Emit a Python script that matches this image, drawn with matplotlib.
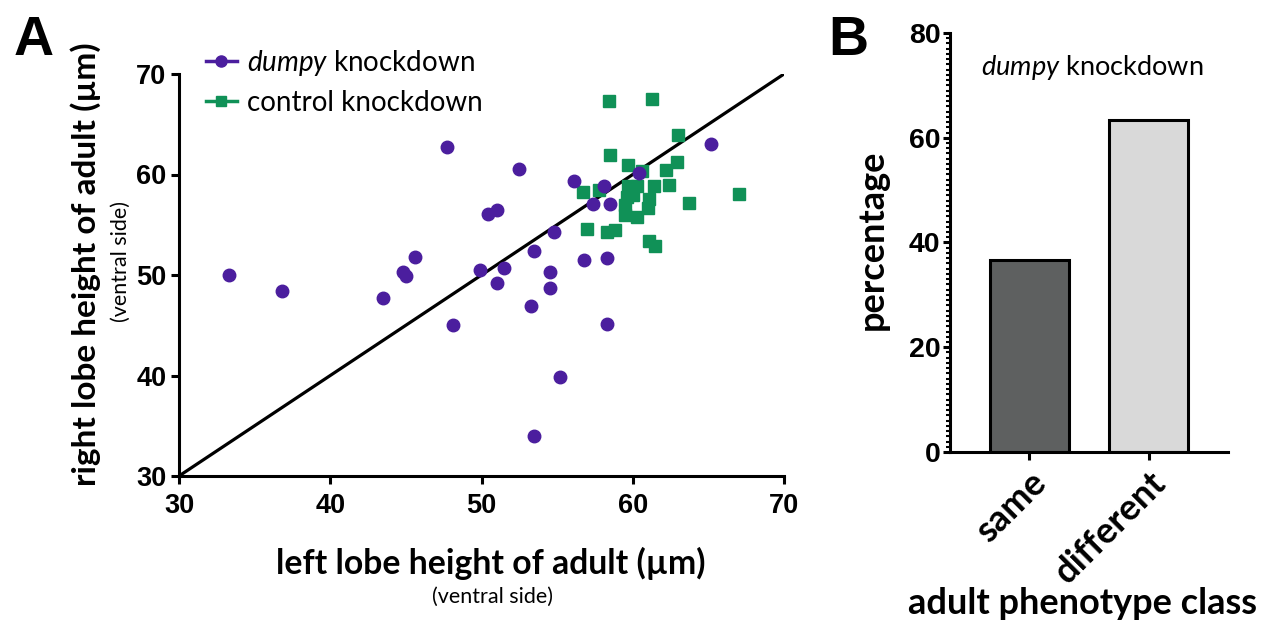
import matplotlib
matplotlib.use("Agg")
import matplotlib.pyplot as plt
from matplotlib.lines import Line2D
from matplotlib.ticker import MultipleLocator

# panel A: left vs right lobe height (um)
dumpy_left = [33.3, 36.8, 43.5, 44.8, 45.0, 45.6, 47.7, 48.1, 49.9, 50.4,
              51.0, 51.0, 51.5, 52.5, 53.3, 53.5, 53.5, 54.5, 54.5, 54.8,
              55.2, 56.1, 56.8, 57.4, 58.1, 58.3, 58.3, 58.5, 60.4, 65.2]
dumpy_right = [50.0, 48.4, 47.7, 50.3, 49.9, 51.8, 62.7, 45.0, 50.5, 56.1,
               56.5, 49.2, 50.7, 60.5, 46.9, 52.4, 34.0, 50.3, 48.7, 54.3,
               39.9, 59.4, 51.5, 57.1, 58.9, 51.7, 45.1, 57.1, 60.1, 63.0]
control_left = [58.4, 61.3, 63.0, 58.5, 59.7, 60.6, 62.9, 62.2, 56.7, 57.8,
                59.7, 60.3, 61.4, 62.4, 59.6, 60.0, 61.1, 59.5, 61.0, 59.5,
                60.3, 63.7, 67.0, 57.0, 58.3, 58.8, 61.1, 61.5]
control_right = [67.3, 67.5, 63.9, 61.9, 60.9, 60.3, 61.2, 60.4, 58.3, 58.5,
                 58.9, 58.9, 58.9, 59.0, 57.8, 58.0, 57.6, 57.0, 56.7, 56.0,
                 55.8, 57.2, 58.1, 54.6, 54.3, 54.5, 53.4, 52.9]
axis_ticks = [30, 40, 50, 60, 70]

# panel B: dumpy knockdown, adult phenotype class
classes = ["same", "different"]
percentages = [36.7, 63.3]
b_ticks = [0, 20, 40, 60, 80]

PURPLE = "#4b1e9e"
GREEN = "#109157"
TICK_FONT = "Liberation Sans"
LABEL_FONT = "Lato"

plt.rcParams["mathtext.fontset"] = "custom"
plt.rcParams["mathtext.rm"] = "Lato"
plt.rcParams["mathtext.it"] = "Lato:italic"

W, H = 1271, 626


def px(x, y):
    # pixel position (from top-left) -> figure fraction
    return x / W, 1 - y / H


fig = plt.figure(figsize=(W / 100, H / 100), dpi=100)

# ---- panel A ----
ax = fig.add_axes([179 / W, 1 - 476 / H, 605 / W, 402 / H])
ax.plot([axis_ticks[0], axis_ticks[-1]], [axis_ticks[0], axis_ticks[-1]],
        color="black", lw=2.3, zorder=2)
ax.plot(control_left, control_right, ls="none", marker="s", ms=8.6,
        color=GREEN, mec=GREEN, zorder=3)
ax.plot(dumpy_left, dumpy_right, ls="none", marker="o", ms=9,
        color=PURPLE, mec=PURPLE, zorder=4)
ax.set_xlim(30, 70)
ax.set_ylim(30, 70)
ax.set_xticks(axis_ticks)
ax.set_yticks(axis_ticks)
for s in ["top", "right"]:
    ax.spines[s].set_visible(False)
for s in ["left", "bottom"]:
    ax.spines[s].set_linewidth(2.2)
ax.tick_params(width=2.2, length=6, labelsize=19.5)
ax.tick_params(axis="x", pad=6)
ax.tick_params(axis="y", pad=3)
for lab in ax.get_xticklabels() + ax.get_yticklabels():
    lab.set_fontfamily(TICK_FONT)
    lab.set_fontweight("bold")

fig.text(*px(491, 563), "left lobe height of adult (µm)", ha="center", va="center",
         fontsize=24.3, fontweight="bold", family=LABEL_FONT)
fig.text(*px(493, 597), "(ventral side)", ha="center", va="center",
         fontsize=15.5, family=LABEL_FONT)
fig.text(*px(86, 264), "right lobe height of adult (µm)", ha="center", va="center",
         rotation=90, fontsize=24, fontweight="bold", family=LABEL_FONT)
fig.text(*px(121, 262), "(ventral side)", ha="center", va="center",
         rotation=90, fontsize=15.5, family=LABEL_FONT)

handles = [
    Line2D([], [], color=PURPLE, marker="o", ms=8, lw=2.5),
    Line2D([], [], color=GREEN, marker="s", ms=7.5, lw=2.5),
]
ax.legend(handles, [r"$\it{dumpy}$ knockdown", "control knockdown"],
          loc="upper left", bbox_to_anchor=px(206, 48),
          bbox_transform=fig.transFigure, frameon=False, borderpad=0,
          borderaxespad=0, handlelength=1.1, handletextpad=0.37,
          labelspacing=0.42, prop={"family": LABEL_FONT, "size": 20})

fig.text(*px(14, 55), "A", fontsize=40, fontweight="bold", family=TICK_FONT)

# ---- panel B ----
bx = fig.add_axes([950 / W, 1 - 452 / H, 278 / W, 419 / H])
bx.bar([0, 1], percentages, width=2 / 3, color=["#5e6060", "#d9d9d9"],
       edgecolor="black", linewidth=2.2, zorder=2)
bx.set_xlim(-2 / 3, 5 / 3)
bx.set_ylim(0, 80)
bx.set_yticks(b_ticks)
bx.yaxis.set_minor_locator(MultipleLocator(1))
bx.set_xticks([0, 1])
bx.set_xticklabels(classes, rotation=45, ha="right", rotation_mode="anchor")
for s in ["top", "right"]:
    bx.spines[s].set_visible(False)
for s in ["left", "bottom"]:
    bx.spines[s].set_linewidth(2.2)
bx.tick_params(axis="y", which="major", width=2.2, length=5, labelsize=20.5, pad=2)
bx.tick_params(axis="y", which="minor", width=1.5, length=3)
bx.tick_params(axis="x", width=2.2, length=6, pad=4)
for lab in bx.get_yticklabels():
    lab.set_fontfamily(TICK_FONT)
    lab.set_fontweight("bold")
for lab in bx.get_xticklabels():
    lab.set_fontfamily(LABEL_FONT)
    lab.set_fontweight("bold")
    lab.set_fontsize(26)

fig.text(*px(1092, 67), r"$\it{dumpy}$ knockdown", ha="center", va="center",
         fontsize=19.5, family=LABEL_FONT)
fig.text(*px(872, 240), "percentage", ha="center", va="center", rotation=90,
         fontsize=26, fontweight="bold", family=LABEL_FONT)
fig.text(*px(1082, 603), "adult phenotype class", ha="center", va="center",
         fontsize=26, fontweight="bold", family=LABEL_FONT)

fig.text(*px(828, 55), "B", fontsize=40, fontweight="bold", family=TICK_FONT)

fig.savefig("out.png", dpi=100)
